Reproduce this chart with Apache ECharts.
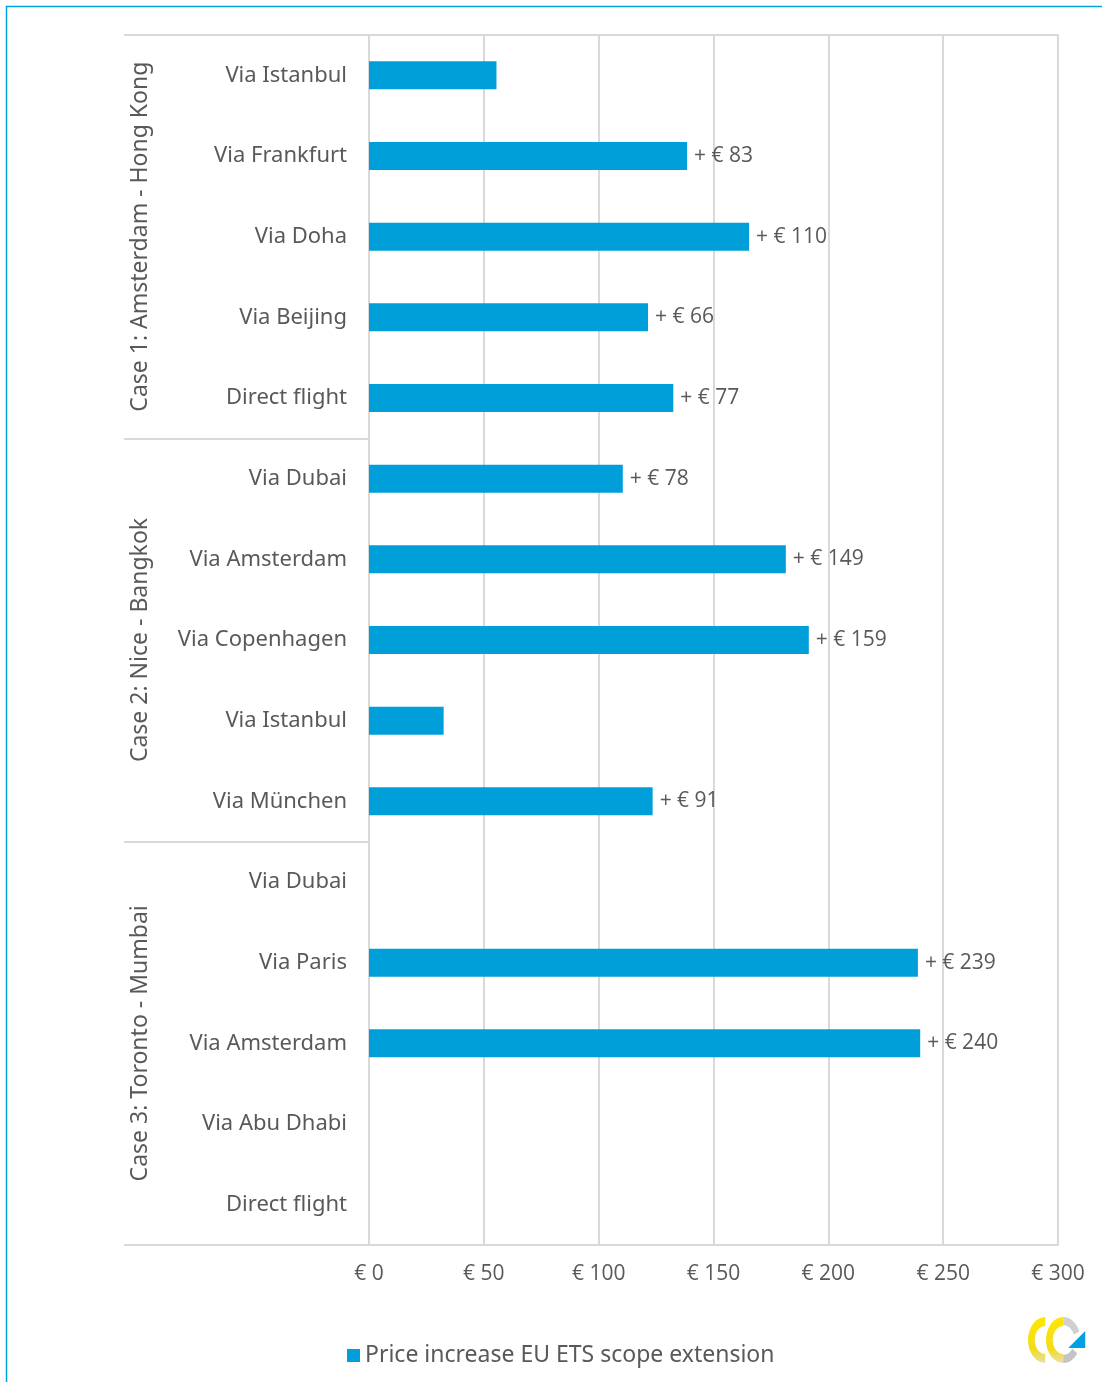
<!DOCTYPE html>
<html>
<head>
<meta charset="utf-8">
<script src="https://cdn.jsdelivr.net/npm/echarts@6/dist/echarts.min.js"></script>
<style>
  html, body { margin: 0; padding: 0; background: #ffffff; }
  #chart { width: 1102px; height: 1382px; }
</style>
</head>
<body>
<div id="chart"></div>
<script>
// Routes per case, top to bottom
const routes = [
  'Via Istanbul', 'Via Frankfurt', 'Via Doha', 'Via Beijing', 'Direct flight',
  'Via Dubai', 'Via Amsterdam', 'Via Copenhagen', 'Via Istanbul', 'Via München',
  'Via Dubai', 'Via Paris', 'Via Amsterdam', 'Via Abu Dhabi', 'Direct flight'
];
const cases = [
  'Case 1: Amsterdam - Hong Kong',
  'Case 2: Nice - Bangkok',
  'Case 3: Toronto - Mumbai'
];
const routesPerCase = [5, 5, 5];
// Price of the route outside the EU ETS scope in each case (€)
const basePrice = [55.5, 32.5, 0];
// Extra cost on top of that route (€); 0 = the reference route, null = no data
const increase = [0, 83, 110, 66, 77, 78, 149, 159, 0, 91, 0, 239, 240, null, null];
const xTicks = [0, 50, 100, 150, 200, 250, 300];

const caseOfRoute = [];
routesPerCase.forEach((n, c) => { for (let k = 0; k < n; k++) caseOfRoute.push(c); });
const barValues = increase.map((d, i) => d == null ? null : basePrice[caseOfRoute[i]] + d);

const GRAY_TEXT = '#595959';
const GRID_LINE = '#D9D9D9';
const BLUE = '#009FDA';
const LABEL_FONT = '"Noto Sans", sans-serif';
const NUM_FONT = '"Open Sans", sans-serif';
const yellowFade = () => new echarts.graphic.LinearGradient(0, 0, 0, 1, [
  { offset: 0, color: '#FFE600' }, { offset: 0.7, color: '#F2DC1A' }, { offset: 1, color: '#E6E0B0' }
]);

const chart = echarts.init(document.getElementById('chart'));
chart.setOption({
  animation: false,
  backgroundColor: '#ffffff',
  grid: { left: 369, right: 44, top: 35, bottom: 137 },
  legend: {
    data: ['Price increase EU ETS scope extension'],
    left: 342, top: 1339,
    icon: 'rect', itemWidth: 13, itemHeight: 13, itemGap: 6,
    textStyle: { fontFamily: LABEL_FONT, fontSize: 23, color: GRAY_TEXT }
  },
  xAxis: [{
    type: 'value',
    min: xTicks[0], max: xTicks[xTicks.length - 1], interval: xTicks[1] - xTicks[0],
    position: 'bottom',
    axisLine: { show: true, lineStyle: { color: GRID_LINE, width: 2 } },
    axisTick: { show: false },
    splitLine: { show: true, lineStyle: { color: GRID_LINE, width: 2 } },
    axisLabel: {
      formatter: v => '€ ' + v, margin: 19,
      fontFamily: NUM_FONT, fontSize: 21, color: GRAY_TEXT
    }
  }, {
    type: 'value',
    min: xTicks[0], max: xTicks[xTicks.length - 1],
    position: 'top',
    axisLine: { show: true, lineStyle: { color: GRID_LINE, width: 2 } },
    axisTick: { show: false }, axisLabel: { show: false }, splitLine: { show: false }
  }],
  yAxis: [{
    type: 'category', data: routes, inverse: true,
    axisLine: { show: true, lineStyle: { color: GRID_LINE, width: 2 } },
    axisTick: { show: false },
    axisLabel: { interval: 0, margin: 22, fontFamily: LABEL_FONT, fontSize: 22, color: GRAY_TEXT }
  }, {
    // case groups: boundary ticks form the separators, rotated names on the left
    type: 'category', data: cases, inverse: true, position: 'left',
    axisLine: { show: false },
    axisTick: { show: true, interval: 0, length: 245, lineStyle: { color: GRID_LINE, width: 2 } },
    axisLabel: { interval: 0, rotate: 90, margin: 217, fontFamily: LABEL_FONT, fontSize: 23, color: GRAY_TEXT }
  }],
  series: [{
    name: 'Price increase EU ETS scope extension',
    type: 'bar', xAxisIndex: 0, yAxisIndex: 0,
    data: barValues, barWidth: 28,
    itemStyle: { color: BLUE },
    label: {
      show: true, position: 'right', distance: 7,
      fontFamily: NUM_FONT, fontSize: 21, color: GRAY_TEXT,
      formatter: p => increase[p.dataIndex] > 0 ? '+ € ' + increase[p.dataIndex] : ''
    }
  }],
  graphic: [
    // frame around the figure
    { type: 'rect', silent: true, shape: { x: 6.5, y: 6.5, width: 1200, height: 1500 },
      style: { fill: 'none', stroke: '#00A3E0', lineWidth: 1.5 } },
    // logo
    { type: 'group', left: 1028, top: 1317, children: [
      { type: 'sector', shape: { cx: 24, cy: 23, r: 23, r0: 14, startAngle: Math.PI * 0.5, endAngle: Math.PI * 1.5 },
        scaleX: 0.75, originX: 24, originY: 23, style: { fill: yellowFade() } },
      { type: 'sector', shape: { cx: 42, cy: 23, r: 23, r0: 14, startAngle: Math.PI * 0.5, endAngle: Math.PI * 1.5 },
        scaleX: 0.75, originX: 42, originY: 23, style: { fill: yellowFade() } },
      { type: 'sector', shape: { cx: 42, cy: 23, r: 23, r0: 15, startAngle: -Math.PI * 0.5, endAngle: -Math.PI * 0.12 },
        scaleX: 0.75, originX: 42, originY: 23, style: { fill: '#D0D0D0' } },
      { type: 'sector', shape: { cx: 42, cy: 23, r: 23, r0: 15, startAngle: Math.PI * 0.2, endAngle: Math.PI * 0.5 },
        scaleX: 0.75, originX: 42, originY: 23, style: { fill: '#C4C4C4' } },
      { type: 'polygon', shape: { points: [[64, 14], [64, 31], [47, 31]] }, style: { fill: '#00A3E0' } }
    ] }
  ]
});
</script>
</body>
</html>
